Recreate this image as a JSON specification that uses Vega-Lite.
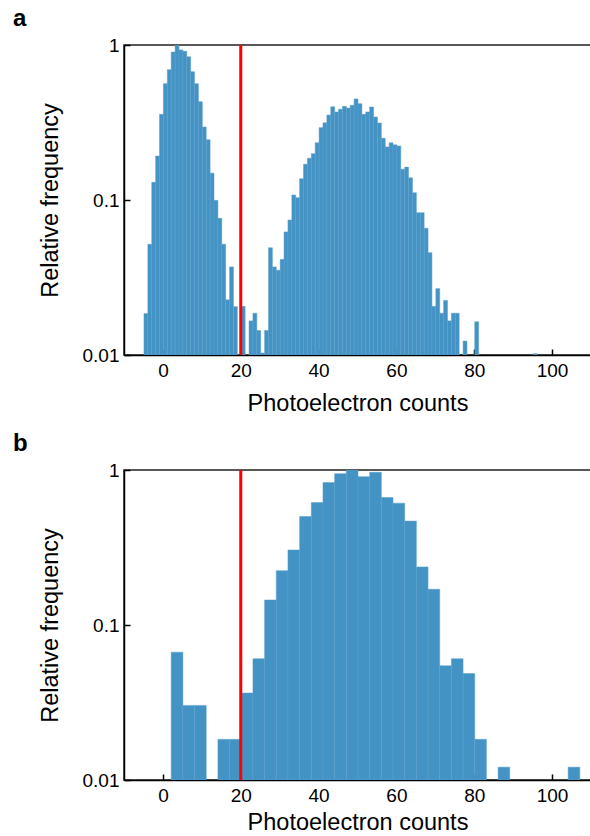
{
  "$schema": "https://vega.github.io/schema/vega-lite/v6.json",
  "padding": {"left": 12, "top": 6, "right": 0, "bottom": 12},
  "bounds": "flush",
  "spacing": 115,
  "config": {
    "font": "Liberation Sans",
    "view": {"stroke": "#222222", "strokeWidth": 1.5},
    "bar": {"binSpacing": 0},
    "axis": {
      "grid": false,
      "domainColor": "black",
      "domainWidth": 1.5,
      "tickColor": "black",
      "tickWidth": 1.5,
      "tickSize": -6,
      "labelColor": "black",
      "titleColor": "black",
      "labelFontSize": 19,
      "titleFontSize": 23.5,
      "titleFontWeight": "normal",
      "labelFont": "Liberation Sans",
      "titleFont": "Liberation Sans"
    },
    "title": {"fontSize": 24, "fontWeight": "bold", "font": "Liberation Sans", "color": "black"}
  },
  "datasets": {
    "hist_a": [
      {"bin_start": -5, "bin_end": -4, "frequency": 0.0185},
      {"bin_start": -4, "bin_end": -3, "frequency": 0.0518},
      {"bin_start": -3, "bin_end": -2, "frequency": 0.130},
      {"bin_start": -2, "bin_end": -1, "frequency": 0.192},
      {"bin_start": -1, "bin_end": 0, "frequency": 0.357},
      {"bin_start": 0, "bin_end": 1, "frequency": 0.563},
      {"bin_start": 1, "bin_end": 2, "frequency": 0.693},
      {"bin_start": 2, "bin_end": 3, "frequency": 0.901},
      {"bin_start": 3, "bin_end": 4, "frequency": 1.0},
      {"bin_start": 4, "bin_end": 5, "frequency": 0.93},
      {"bin_start": 5, "bin_end": 6, "frequency": 0.91},
      {"bin_start": 6, "bin_end": 7, "frequency": 0.84},
      {"bin_start": 7, "bin_end": 8, "frequency": 0.673},
      {"bin_start": 8, "bin_end": 9, "frequency": 0.563},
      {"bin_start": 9, "bin_end": 10, "frequency": 0.431},
      {"bin_start": 10, "bin_end": 11, "frequency": 0.296},
      {"bin_start": 11, "bin_end": 12, "frequency": 0.245},
      {"bin_start": 12, "bin_end": 13, "frequency": 0.149},
      {"bin_start": 13, "bin_end": 14, "frequency": 0.0995},
      {"bin_start": 14, "bin_end": 15, "frequency": 0.0762},
      {"bin_start": 15, "bin_end": 16, "frequency": 0.0518},
      {"bin_start": 16, "bin_end": 17, "frequency": 0.0227},
      {"bin_start": 17, "bin_end": 18, "frequency": 0.037},
      {"bin_start": 18, "bin_end": 19, "frequency": 0.0205},
      {"bin_start": 20, "bin_end": 21, "frequency": 0.0206},
      {"bin_start": 22, "bin_end": 23, "frequency": 0.0166},
      {"bin_start": 23, "bin_end": 24, "frequency": 0.0186},
      {"bin_start": 24, "bin_end": 25, "frequency": 0.0144},
      {"bin_start": 25, "bin_end": 26, "frequency": 0.0103},
      {"bin_start": 26, "bin_end": 27, "frequency": 0.0144},
      {"bin_start": 27, "bin_end": 28, "frequency": 0.0492},
      {"bin_start": 28, "bin_end": 29, "frequency": 0.037},
      {"bin_start": 29, "bin_end": 30, "frequency": 0.0352},
      {"bin_start": 30, "bin_end": 31, "frequency": 0.0414},
      {"bin_start": 31, "bin_end": 32, "frequency": 0.0622},
      {"bin_start": 32, "bin_end": 33, "frequency": 0.0743},
      {"bin_start": 33, "bin_end": 34, "frequency": 0.1077},
      {"bin_start": 34, "bin_end": 35, "frequency": 0.1035},
      {"bin_start": 35, "bin_end": 36, "frequency": 0.1373},
      {"bin_start": 36, "bin_end": 37, "frequency": 0.170},
      {"bin_start": 37, "bin_end": 38, "frequency": 0.186},
      {"bin_start": 38, "bin_end": 39, "frequency": 0.199},
      {"bin_start": 39, "bin_end": 40, "frequency": 0.234},
      {"bin_start": 40, "bin_end": 41, "frequency": 0.293},
      {"bin_start": 41, "bin_end": 42, "frequency": 0.315},
      {"bin_start": 42, "bin_end": 43, "frequency": 0.353},
      {"bin_start": 43, "bin_end": 44, "frequency": 0.400},
      {"bin_start": 44, "bin_end": 45, "frequency": 0.370},
      {"bin_start": 45, "bin_end": 46, "frequency": 0.385},
      {"bin_start": 46, "bin_end": 47, "frequency": 0.402},
      {"bin_start": 47, "bin_end": 48, "frequency": 0.392},
      {"bin_start": 48, "bin_end": 49, "frequency": 0.408},
      {"bin_start": 49, "bin_end": 50, "frequency": 0.449},
      {"bin_start": 50, "bin_end": 51, "frequency": 0.418},
      {"bin_start": 51, "bin_end": 52, "frequency": 0.357},
      {"bin_start": 52, "bin_end": 53, "frequency": 0.370},
      {"bin_start": 53, "bin_end": 54, "frequency": 0.398},
      {"bin_start": 54, "bin_end": 55, "frequency": 0.343},
      {"bin_start": 55, "bin_end": 56, "frequency": 0.314},
      {"bin_start": 56, "bin_end": 57, "frequency": 0.250},
      {"bin_start": 57, "bin_end": 58, "frequency": 0.220},
      {"bin_start": 58, "bin_end": 59, "frequency": 0.234},
      {"bin_start": 59, "bin_end": 60, "frequency": 0.227},
      {"bin_start": 60, "bin_end": 61, "frequency": 0.223},
      {"bin_start": 61, "bin_end": 62, "frequency": 0.158},
      {"bin_start": 62, "bin_end": 63, "frequency": 0.163},
      {"bin_start": 63, "bin_end": 64, "frequency": 0.139},
      {"bin_start": 64, "bin_end": 65, "frequency": 0.1115},
      {"bin_start": 65, "bin_end": 66, "frequency": 0.0828},
      {"bin_start": 66, "bin_end": 67, "frequency": 0.0828},
      {"bin_start": 67, "bin_end": 68, "frequency": 0.0657},
      {"bin_start": 68, "bin_end": 69, "frequency": 0.0457},
      {"bin_start": 69, "bin_end": 70, "frequency": 0.0206},
      {"bin_start": 70, "bin_end": 71, "frequency": 0.0268},
      {"bin_start": 71, "bin_end": 72, "frequency": 0.0186},
      {"bin_start": 72, "bin_end": 73, "frequency": 0.0225},
      {"bin_start": 73, "bin_end": 74, "frequency": 0.0166},
      {"bin_start": 74, "bin_end": 75, "frequency": 0.0186},
      {"bin_start": 75, "bin_end": 76, "frequency": 0.0186},
      {"bin_start": 77, "bin_end": 78, "frequency": 0.0123},
      {"bin_start": 80, "bin_end": 81, "frequency": 0.0164},
      {"bin_start": 95, "bin_end": 96, "frequency": 0.0102}
    ],
    "hist_b": [
      {"bin_start": 2, "bin_end": 5, "frequency": 0.0668},
      {"bin_start": 5, "bin_end": 8, "frequency": 0.0303},
      {"bin_start": 8, "bin_end": 11, "frequency": 0.0303},
      {"bin_start": 14, "bin_end": 17, "frequency": 0.0183},
      {"bin_start": 17, "bin_end": 20, "frequency": 0.0183},
      {"bin_start": 20, "bin_end": 23, "frequency": 0.0364},
      {"bin_start": 23, "bin_end": 26, "frequency": 0.0606},
      {"bin_start": 26, "bin_end": 29, "frequency": 0.145},
      {"bin_start": 29, "bin_end": 32, "frequency": 0.224},
      {"bin_start": 32, "bin_end": 35, "frequency": 0.305},
      {"bin_start": 35, "bin_end": 38, "frequency": 0.501},
      {"bin_start": 38, "bin_end": 41, "frequency": 0.616},
      {"bin_start": 41, "bin_end": 44, "frequency": 0.829},
      {"bin_start": 44, "bin_end": 47, "frequency": 0.947},
      {"bin_start": 47, "bin_end": 50, "frequency": 1.0},
      {"bin_start": 50, "bin_end": 53, "frequency": 0.906},
      {"bin_start": 53, "bin_end": 56, "frequency": 0.966},
      {"bin_start": 56, "bin_end": 59, "frequency": 0.664},
      {"bin_start": 59, "bin_end": 62, "frequency": 0.611},
      {"bin_start": 62, "bin_end": 65, "frequency": 0.468},
      {"bin_start": 65, "bin_end": 68, "frequency": 0.237},
      {"bin_start": 68, "bin_end": 71, "frequency": 0.170},
      {"bin_start": 71, "bin_end": 74, "frequency": 0.0546},
      {"bin_start": 74, "bin_end": 77, "frequency": 0.0606},
      {"bin_start": 77, "bin_end": 80, "frequency": 0.0486},
      {"bin_start": 80, "bin_end": 83, "frequency": 0.0183},
      {"bin_start": 86, "bin_end": 89, "frequency": 0.0121},
      {"bin_start": 104, "bin_end": 107, "frequency": 0.0121}
    ],
    "threshold": [{"counts": 20}]
  },
  "vconcat": [
    {
      "width": 467,
      "height": 310,
      "title": {"text": "a", "anchor": "start", "frame": "group", "dx": -111, "dy": 33, "offset": 19, "baseline": "alphabetic"},
      "layer": [
        {
          "data": {"name": "hist_a"},
          "mark": {"type": "bar", "color": "#4393c4", "stroke": "#5a9fcc", "strokeWidth": 0.5, "clip": true},
          "encoding": {
            "x": {"field": "bin_start", "type": "quantitative", "bin": "binned", "scale": {"domain": [-10, 110], "nice": false, "zero": false},
              "axis": {"values": [0, 20, 40, 60, 80, 100], "title": "Photoelectron counts", "labelFlush": false, "labelPadding": 12, "titlePadding": 11}},
            "x2": {"field": "bin_end"},
            "y": {"field": "frequency", "type": "quantitative", "scale": {"type": "log", "domain": [0.01, 1], "nice": false},
              "axis": {"values": [0.01, 0.1, 1], "format": "~g", "title": "Relative frequency", "labelPadding": 11, "titlePadding": 20}},
            "y2": {"datum": 0.01}
          }
        },
        {
          "data": {"name": "threshold"},
          "mark": {"type": "rule", "color": "#ff0000", "strokeWidth": 3},
          "encoding": {"x": {"field": "counts", "type": "quantitative"}}
        }
      ]
    },
    {
      "width": 467,
      "height": 310,
      "title": {"text": "b", "anchor": "start", "frame": "group", "dx": -111, "dy": 33, "offset": 19, "baseline": "alphabetic"},
      "layer": [
        {
          "data": {"name": "hist_b"},
          "mark": {"type": "bar", "color": "#4393c4", "stroke": "#5a9fcc", "strokeWidth": 0.5, "clip": true},
          "encoding": {
            "x": {"field": "bin_start", "type": "quantitative", "bin": "binned", "scale": {"domain": [-10, 110], "nice": false, "zero": false},
              "axis": {"values": [0, 20, 40, 60, 80, 100], "title": "Photoelectron counts", "labelFlush": false, "labelPadding": 12, "titlePadding": 5}},
            "x2": {"field": "bin_end"},
            "y": {"field": "frequency", "type": "quantitative", "scale": {"type": "log", "domain": [0.01, 1], "nice": false},
              "axis": {"values": [0.01, 0.1, 1], "format": "~g", "title": "Relative frequency", "labelPadding": 11, "titlePadding": 20}},
            "y2": {"datum": 0.01}
          }
        },
        {
          "data": {"name": "threshold"},
          "mark": {"type": "rule", "color": "#ff0000", "strokeWidth": 3},
          "encoding": {"x": {"field": "counts", "type": "quantitative"}}
        }
      ]
    }
  ]
}
